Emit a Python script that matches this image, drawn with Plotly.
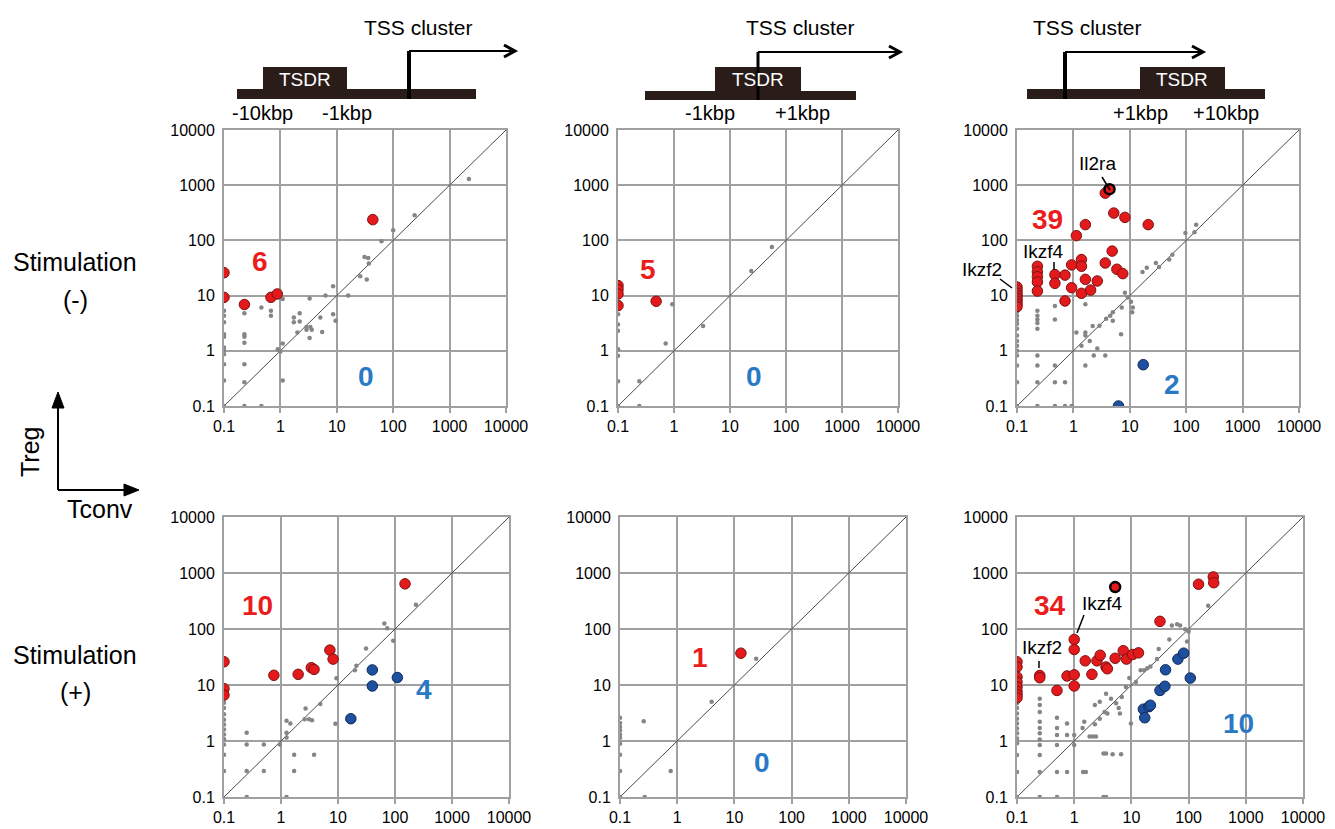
import plotly.graph_objects as go

W, H = 1335, 829          # browser window
OFF = 8                   # default page body margin around the plot div
FW, FH = W - OFF, H - OFF
TICKS = [0.1, 1, 10, 100, 1000, 10000]
TICK_TEXT = ["0.1", "1", "10", "100", "1000", "10000"]
DIAG = [0.1, 10000]

# ---------------- data (Tconv x, Treg y) ----------------
# Panel 1: upstream, stimulation (-)
p1_red_x = [0.1, 0.1, 0.23, 0.68, 0.88, 43.5]
p1_red_y = [26, 9.3, 6.9, 9.3, 10.7, 238]
p1_blue_x = []
p1_blue_y = []
p1_gray_x = [0.1]*11 + [0.23]*7 + [0.46, 0.46, 0.68, 0.68, 0.9, 1.1, 1.1, 1.0, 1.1, 1.73, 2.2, 1.73, 2.2, 2.0, 2.9, 2.9, 3.3, 3.4, 3.6, 3.3, 5.1, 5.5, 6.3, 8.6, 8.6, 9.5, 15.9, 26, 34, 31, 36, 37, 62, 100, 240, 2200]
p1_gray_y = [5.3, 4.3, 3.3, 2.0, 1.8, 1.15, 1.0, 0.87, 0.57, 0.29, 0.1] + [4.8, 2.0, 1.8, 1.4, 0.57, 0.27, 0.1] + [6.1, 0.1, 5.3, 4.3, 1.07, 8.7, 1.36, 0.97, 0.29, 4.0, 4.8, 3.3, 3.4, 2.15, 2.4, 2.7, 8.9, 2.7, 2.4, 1.7, 4.0, 2.2, 10, 14.8, 4.6, 3.5, 10, 22.5, 19.5, 50, 48, 38, 97, 152, 285, 1290]

# Panel 2: TSDR at TSS, stimulation (-)
p2_red_x = [0.1, 0.1, 0.1, 0.1, 0.48]
p2_red_y = [15.2, 12.9, 10.7, 6.6, 7.9]
p2_blue_x = []
p2_blue_y = []
p2_gray_x = [0.1]*7 + [0.24, 0.24, 0.71, 0.93, 3.3, 24, 56]
p2_gray_y = [4.6, 3.0, 2.3, 1.07, 0.81, 0.28, 0.1] + [0.28, 0.1, 1.36, 7.0, 2.8, 28, 76]

# Panel 3: downstream, stimulation (-)
p3_red_x = [0.1]*8 + [0.23]*5 + [0.47, 0.47, 0.71, 0.71, 0.93, 0.93, 1.13, 1.39, 1.39, 1.39, 1.63, 1.63, 2.02, 2.65, 3.67, 3.67, 4.87, 5.2, 5.9, 7.5, 8.2, 21.2]
p3_red_y = [14.3, 12.5, 11, 9.9, 8.8, 7.9, 7.0, 6.3] + [34, 27, 22, 17.6, 12.1] + [24, 16.7, 8.0, 23.5, 13.9, 36, 122, 45, 34, 11, 19.7, 193, 12.6, 18.4, 39, 718, 64, 313, 30, 25, 261, 193]
p3_hl_x = [4.37]   # Il2ra
p3_hl_y = [848]
p3_blue_x = [17.3, 6.3]
p3_blue_y = [0.56, 0.1]
p3_gray_x = [0.1]*13 + [0.23]*9 + [0.47]*5 + [0.71, 0.71, 0.93] + [1.13, 1.63, 1.63, 1.63, 1.63, 1.39, 1.95, 2.2, 2.3, 2.65, 2.9, 3.67, 3.8, 4.5, 5, 5, 7, 7.2, 8.2, 9.2, 10.5, 11, 11.3, 16.8, 20, 29, 33, 50, 57, 97, 150, 140]
p3_gray_y = [5.1, 4.3, 3.6, 3.1, 2.5, 1.9, 1.5, 1.24, 1.0, 0.82, 0.54, 0.27, 0.1] + [5.3, 4.3, 3.7, 3.2, 2.5, 0.82, 0.54, 0.27, 0.1] + [6.5, 3.7, 0.54, 0.27, 0.1] + [0.27, 0.1, 0.1] + [2.15, 7, 2.15, 1.9, 0.54, 1.24, 1.5, 2.8, 0.82, 1.1, 2.85, 0.82, 3.8, 4.3, 5, 3.5, 2.0, 6.1, 11.3, 9.2, 7.7, 5, 6.1, 26.7, 32, 39, 33, 45, 55, 136, 193, 140]

# Panel 4: upstream, stimulation (+)
p4_red_x = [0.1, 0.1, 0.1, 0.75, 2.0, 3.4, 3.8, 7.2, 8.2, 150]
p4_red_y = [26, 8.6, 6.6, 14.9, 15.5, 20.4, 19, 42, 29, 640]
p4_blue_x = [16.8, 40, 40, 110]
p4_blue_y = [2.5, 18.6, 9.6, 13.6]
p4_gray_x = [0.1]*11 + [0.25]*4 + [0.5, 0.5, 1.25, 1.46, 1.25, 1.25, 0.95, 1.7, 1.7, 1.25, 2.7, 2.6, 3.1, 3.5, 3.8, 4.9, 9.4, 9, 19.8, 21, 31, 65, 73, 93, 233]
p4_gray_y = [4.8, 3.9, 3.0, 2.4, 1.97, 1.6, 1.3, 1.07, 0.87, 0.57, 0.29] + [1.4, 0.87, 0.29, 0.1] + [0.87, 0.29, 2.3, 2.05, 1.4, 1.15, 0.87, 0.57, 0.29, 0.1, 3.8, 2.45, 2.45, 2.35, 0.57, 4.6, 13.2, 2.04, 18.4, 22, 45, 125, 103, 62, 272]

# Panel 5: TSDR at TSS, stimulation (+)
p5_red_x = [13]
p5_red_y = [37]
p5_blue_x = []
p5_blue_y = []
p5_gray_x = [0.1]*10 + [0.26, 0.27, 0.77, 4, 24]
p5_gray_y = [2.6, 2.1, 1.77, 1.54, 1.3, 1.14, 0.89, 0.57, 0.29, 0.1] + [2.25, 0.1, 0.29, 5, 29.5]

# Panel 6: downstream, stimulation (+)
p6_red_x = [0.1]*8 + [0.25, 0.25, 0.5, 0.75, 1.0, 1.0, 1.0, 1.0, 1.56, 2.04, 2.5, 2.85, 3.6, 3.8, 5.2, 7.2, 8.2, 10.5, 13.3, 31.6, 149, 270, 275]
p6_red_y = [26, 21, 13.9, 11.3, 9.2, 7.7, 6.7, 5.9] + [14.8, 13.5, 8.0, 14.5, 65, 43, 15.2, 9.6, 27, 15.5, 27, 34, 21, 19.5, 30, 41, 29, 35, 37.5, 137, 630, 850, 670]
p6_hl_x = [5.2]
p6_hl_y = [560]
p6_blue_x = [16.2, 17.1, 20.3, 21.5, 31.6, 38.5, 39.5, 65, 82, 107]
p6_blue_y = [3.7, 2.6, 4.1, 4.35, 8.0, 9.5, 18.7, 29, 37, 13.3]
p6_gray_x = [0.1]*12 + [0.25]*11 + [0.5]*6 + [0.75, 0.75, 0.75, 1.0, 1.0, 1.43, 1.6, 1.5, 1.4, 1.86, 2.1, 2.4, 2.3, 2.8, 3.25, 3.6, 3.25, 3.6, 4.7, 6.6, 2.3, 2.8, 3.4, 3.8, 3.6, 4.4, 5.4, 6, 6.3, 6.8, 8, 9.2, 9.8, 12, 14.5, 16.7, 19, 21.5, 28, 30, 46, 51, 63, 71, 87, 94, 100, 220]
p6_gray_y = [4.7, 3.9, 3.1, 2.5, 2.05, 1.67, 1.37, 1.11, 0.91, 0.56, 0.28, 0.1] + [5.7, 4.4, 3.3, 2.2, 1.7, 1.37, 1.06, 0.85, 0.56, 0.28, 0.1] + [2.6, 1.7, 1.28, 0.85, 0.28, 0.1] + [2.05, 0.28, 1.28, 1.28, 0.85, 0.28, 0.28, 2.2, 1.7, 1.2, 1.2, 1.2, 2.0, 2.5, 0.6, 0.6, 0.1, 0.1, 0.58, 0.58, 4.4, 5.0, 3.3, 3.1, 7.0, 5.7, 4.7, 3.9, 3.1, 6.1, 9.2, 13.3, 2.05, 11.3, 18.4, 18.4, 20, 21.5, 29, 44, 65, 115, 122, 115, 99, 60, 90, 260]

red_counts = ["6", "5", "39", "10", "1", "34"]
blue_counts = ["0", "0", "2", "4", "0", "10"]

panels = [
    (p1_red_x, p1_red_y, p1_blue_x, p1_blue_y, p1_gray_x, p1_gray_y, [], []),
    (p2_red_x, p2_red_y, p2_blue_x, p2_blue_y, p2_gray_x, p2_gray_y, [], []),
    (p3_red_x, p3_red_y, p3_blue_x, p3_blue_y, p3_gray_x, p3_gray_y, p3_hl_x, p3_hl_y),
    (p4_red_x, p4_red_y, p4_blue_x, p4_blue_y, p4_gray_x, p4_gray_y, [], []),
    (p5_red_x, p5_red_y, p5_blue_x, p5_blue_y, p5_gray_x, p5_gray_y, [], []),
    (p6_red_x, p6_red_y, p6_blue_x, p6_blue_y, p6_gray_x, p6_gray_y, p6_hl_x, p6_hl_y),
]

# ---------------- layout geometry (window pixels) ----------------
PX = [(224, 506), (618, 898), (1017, 1299), (224, 509), (620, 906), (1017, 1303)]
PY = [(130, 406), (130, 406), (130, 406), (517, 797), (517, 797), (517, 797)]

def fx(px):
    return (px - OFF) / FW

def fy(py):
    return 1 - (py - OFF) / FH

FONT = "Arial, Liberation Sans, Helvetica, sans-serif"
RED = "#e3191c"
RED_EDGE = "#7d1212"
BLUE = "#1f4f9f"
BLUE_EDGE = "#0e2a5a"
GRAY = "#858585"
GRID = "#a0a0a0"
NUM_RED = "#ea1c1c"
NUM_BLUE = "#2a79c6"
DARK = "#2a1c18"

fig = go.Figure()
layout = dict(width=FW, height=FH, margin=dict(l=0, r=0, t=0, b=0, autoexpand=False),
              paper_bgcolor="white", plot_bgcolor="white", showlegend=False,
              font=dict(family=FONT, color="black"))

for i, (rx, ry, bx, by, gx, gy, hx, hy) in enumerate(panels):
    k = "" if i == 0 else str(i + 1)
    xa, ya = "x" + k, "y" + k
    axis_common = dict(type="log", range=[-1, 4], tickvals=TICKS, ticktext=TICK_TEXT,
                       showgrid=True, gridcolor=GRID, gridwidth=2, automargin=False,
                       showline=True, linecolor=GRID, linewidth=2, mirror=True,
                       tickfont=dict(size=16, family=FONT, color="black"))
    layout["xaxis" + k] = dict(axis_common, domain=[fx(PX[i][0]), fx(PX[i][1])], anchor=ya,
                               ticks="outside", ticklen=5, tickcolor=GRID, tickwidth=2)
    layout["yaxis" + k] = dict(axis_common, domain=[fy(PY[i][1]), fy(PY[i][0])], anchor=xa,
                               ticks="", ticklabelstandoff=4)
    fig.add_trace(go.Scatter(x=DIAG, y=DIAG, mode="lines", xaxis=xa, yaxis=ya,
                             line=dict(color="#4a4a4a", width=1), hoverinfo="skip"))
    fig.add_trace(go.Scatter(x=gx, y=gy, mode="markers", xaxis=xa, yaxis=ya,
                             marker=dict(color=GRAY, size=4.5)))
    fig.add_trace(go.Scatter(x=rx, y=ry, mode="markers", xaxis=xa, yaxis=ya,
                             marker=dict(color=RED, size=10.5, line=dict(color=RED_EDGE, width=1))))
    if hx:
        fig.add_trace(go.Scatter(x=hx, y=hy, mode="markers", xaxis=xa, yaxis=ya,
                                 marker=dict(color=RED, size=10, line=dict(color="black", width=2.5))))
    if bx:
        fig.add_trace(go.Scatter(x=bx, y=by, mode="markers", xaxis=xa, yaxis=ya,
                                 marker=dict(color=BLUE, size=10.5, line=dict(color=BLUE_EDGE, width=1))))

fig.update_layout(**layout)

ann = []
shapes = []

def text(x, y, s, size=20, color="black", bold=False, angle=0, anchor="center"):
    ann.append(dict(x=fx(x), y=fy(y), xref="paper", yref="paper", text=("<b>%s</b>" % s) if bold else s,
                    showarrow=False, xanchor=anchor, yanchor="middle", textangle=angle,
                    font=dict(size=size, color=color, family=FONT)))

def line(x0, y0, x1, y1, w=2, color="black"):
    shapes.append(dict(type="line", xref="paper", yref="paper", x0=fx(x0), y0=fy(y0), x1=fx(x1), y1=fy(y1),
                       line=dict(color=color, width=w)))

def rect(x0, y0, x1, y1, color=DARK):
    shapes.append(dict(type="rect", xref="paper", yref="paper", x0=fx(x0), y0=fy(y0), x1=fx(x1), y1=fy(y1),
                       line=dict(width=0), fillcolor=color))

def chevron(xt, yt, color="black"):
    shapes.append(dict(type="path", xref="paper", yref="paper",
                       path="M %f,%f L %f,%f L %f,%f" % (fx(xt - 11), fy(yt - 6), fx(xt), fy(yt), fx(xt - 11), fy(yt + 6)),
                       line=dict(color=color, width=3)))

def tri(pts, color="black"):
    p = "M " + " L ".join("%f,%f" % (fx(a), fy(b)) for a, b in pts) + " Z"
    shapes.append(dict(type="path", xref="paper", yref="paper", path=p, fillcolor=color, line=dict(color=color, width=1)))

# count labels
num_pos_red = [(260, 262), (648, 270), (1047, 220), (257, 605), (700, 657), (1050, 605)]
num_pos_blue = [(366, 376), (754, 376), (1172, 384), (424, 689), (762, 762), (1238, 723)]
for i in range(6):
    text(*num_pos_red[i], red_counts[i], size=28, color=NUM_RED, bold=True)
    text(*num_pos_blue[i], blue_counts[i], size=28, color=NUM_BLUE, bold=True)

# gene labels
text(1097, 163, "Il2ra", size=19)
line(1102, 177, 1110, 190, w=1.5)
text(1043, 251, "Ikzf4", size=19)
line(1054, 262, 1054, 270, w=1.5)
text(982, 270, "Ikzf2", size=19)
line(1000, 279, 1012, 288, w=1.5)
text(1102, 603, "Ikzf4", size=19)
line(1084, 615, 1077, 633, w=1.5)
text(1042, 647, "Ikzf2", size=19)
line(1039, 661, 1039, 668, w=1.5)

# row labels
text(75, 262, "Stimulation", size=25)
text(75, 300, "(-)", size=25)
text(75, 655, "Stimulation", size=25)
text(75, 692, "(+)", size=25)

# Treg / Tconv axes icon
line(58, 490, 58, 406, w=2)
tri([(52, 408), (64, 408), (58, 392)])
line(58, 490, 126, 490, w=2)
tri([(124, 484), (124, 496), (139, 490)])
text(30, 452, "Treg", size=25, angle=-90)
text(100, 509, "Tconv", size=25)

# gene schematics
# panel 1: upstream TSDR
rect(237, 89, 476, 99)
rect(263, 67, 347, 99)
text(305, 80, "TSDR", size=19, color="white")
line(409, 51, 409, 99, w=4)
line(409, 51, 512, 51, w=2)
chevron(515, 51)
text(418, 27, "TSS cluster", size=21)
text(262, 113, "-10kbp", size=20)
text(347, 113, "-1kbp", size=20)

# panel 2: TSDR spanning TSS
rect(645, 91, 856, 100)
rect(715, 67, 801, 100)
text(758, 80, "TSDR", size=19, color="white")
line(758, 52, 758, 100, w=3)
line(758, 52, 897, 52, w=2)
chevron(900, 52)
text(800, 27, "TSS cluster", size=21)
text(710, 113, "-1kbp", size=20)
text(803, 113, "+1kbp", size=20)

# panel 3: downstream TSDR
rect(1027, 89, 1265, 99)
rect(1140, 67, 1225, 99)
text(1182, 80, "TSDR", size=19, color="white")
line(1065, 52, 1065, 99, w=4)
line(1065, 52, 1200, 52, w=2)
chevron(1203, 52)
text(1087, 27, "TSS cluster", size=21)
text(1140, 113, "+1kbp", size=20)
text(1226, 113, "+10kbp", size=20)

fig.update_layout(annotations=ann, shapes=shapes)
fig.write_html("out.html")
